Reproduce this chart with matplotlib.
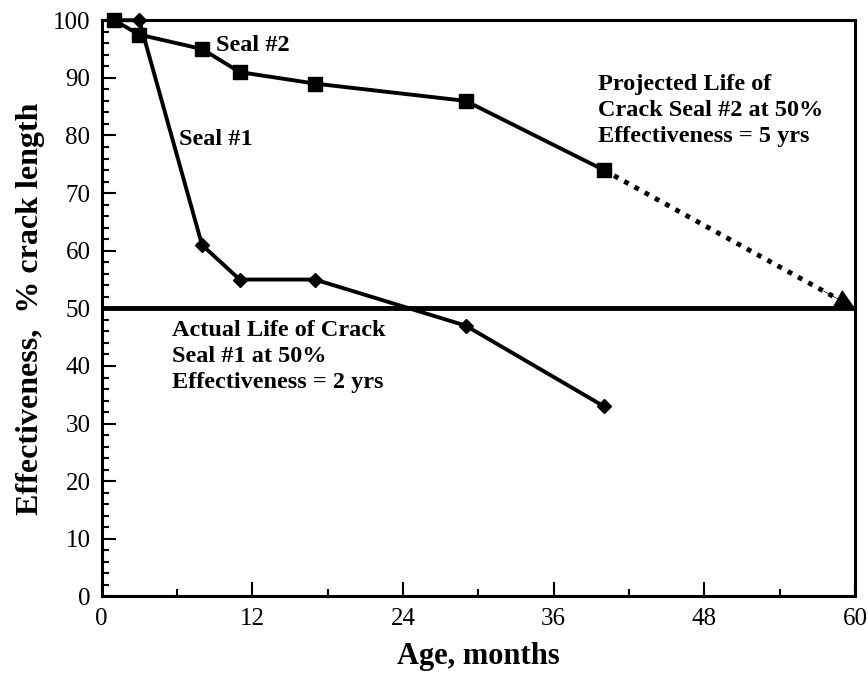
import numpy as np
import matplotlib.pyplot as plt
from matplotlib.ticker import MultipleLocator

plt.rcParams['font.family'] = ['Liberation Serif', 'DejaVu Serif']

# crack seal effectiveness over time
seal1_age = [1, 3, 8, 11, 17, 29, 40]
seal1_eff = [100, 100, 61, 55, 55, 47, 33]
seal2_age = [1, 3, 8, 11, 17, 29, 40]
seal2_eff = [100, 97.5, 95, 91, 89, 86, 74]
proj_age = [40, 60]
proj_eff = [74, 50]
threshold = 50

fig, ax = plt.subplots(figsize=(8.68, 6.74), dpi=100)
fig.subplots_adjust(left=0.117, right=0.985, top=0.970, bottom=0.115)

ax.axhline(threshold, color='black', lw=3.5, zorder=2)

ax.plot(seal1_age, seal1_eff, color='black', lw=2.8, marker='D',
        markersize=7.5, zorder=3, clip_on=False)
ax.plot(seal2_age, seal2_eff, color='black', lw=2.8, marker='s',
        markersize=10.5, zorder=3, clip_on=False)

# dotted projection for seal #2 down to the 50% line
stop = proj_age[1] - 1.5
slope = (proj_eff[1] - proj_eff[0]) / (proj_age[1] - proj_age[0])
ax.plot([proj_age[0], stop], [proj_eff[0], proj_eff[0] + slope * (stop - proj_age[0])],
        color='black', lw=3.5, linestyle=(0, (1, 1.4)), zorder=3)
ax.annotate('', xy=(proj_age[1], proj_eff[1]),
            xytext=(proj_age[1] - 2.5, proj_eff[1] - slope * 2.5),
            arrowprops=dict(arrowstyle='-|>', color='black', lw=0.5,
                            mutation_scale=34, shrinkA=0, shrinkB=0),
            annotation_clip=False, zorder=4)

txt = dict(fontsize=17.5, fontweight='bold', color='black')
ax.text(9.1, 95.6, 'Seal #2', ha='left', va='center', **txt)
ax.text(6.2, 79.3, 'Seal #1', ha='left', va='center', **txt)
ax.text(39.5, 90.6, 'Projected Life of\nCrack Seal #2 at 50%\nEffectiveness = 5 yrs',
        ha='left', va='top', linespacing=1.3, **txt)
ax.text(5.6, 47.9, 'Actual Life of Crack\nSeal #1 at 50%\nEffectiveness = 2 yrs',
        ha='left', va='top', linespacing=1.3, **txt)

ax.set_xlim(0, 60)
ax.set_ylim(0, 100)
ax.xaxis.set_major_locator(MultipleLocator(12))
ax.xaxis.set_minor_locator(MultipleLocator(6))
ax.yaxis.set_major_locator(MultipleLocator(10))
ax.yaxis.set_minor_locator(MultipleLocator(2))
ax.tick_params(which='both', direction='in', top=False, right=False,
               labelsize=18, width=1.5)
ax.tick_params(which='major', length=10, pad=8)
ax.tick_params(which='minor', length=5)
for s in ax.spines.values():
    s.set_linewidth(2.2)

ax.set_xlabel('Age, months', fontsize=22, fontweight='bold', labelpad=9)
ax.set_ylabel('Effectiveness,  % crack length', fontsize=23, fontweight='bold', labelpad=6)

plt.savefig('out.png')
